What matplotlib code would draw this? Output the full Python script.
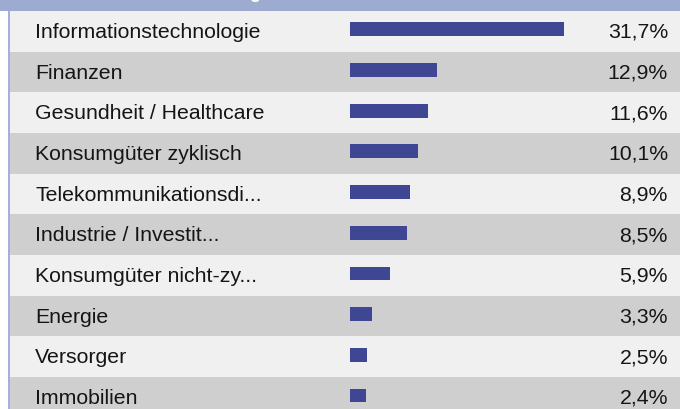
import matplotlib
matplotlib.use("Agg")
import matplotlib.pyplot as plt
from matplotlib.patches import Rectangle
import matplotlib.transforms as mtransforms

categories = [
    "Informationstechnologie",
    "Finanzen",
    "Gesundheit / Healthcare",
    "Konsumgüter zyklisch",
    "Telekommunikationsdi...",
    "Industrie / Investit...",
    "Konsumgüter nicht-zy...",
    "Energie",
    "Versorger",
    "Immobilien",
]
values = [31.7, 12.9, 11.6, 10.1, 8.9, 8.5, 5.9, 3.3, 2.5, 2.4]
value_labels = ["31,7%", "12,9%", "11,6%", "10,1%", "8,9%", "8,5%", "5,9%", "3,3%", "2,5%", "2,4%"]
title = "Branchenverteilung"

W, H = 680, 410
DPI = 100
row_h = 40.67        # px per row
top_px = 12.0        # header height
bar_x0 = 350.0       # px where bars start
px_per_pct = 6.75

plt.rcParams["font.family"] = ["Liberation Sans", "DejaVu Sans"]

fig = plt.figure(figsize=(W / DPI, H / DPI), dpi=DPI)
ax = fig.add_axes([0, 0, 1, 1])
ax.set_axis_off()

# data scales: x in percent, y in row units
ax.set_xlim(-bar_x0 / px_per_pct, (W - bar_x0) / px_per_pct)
y_top = -0.5 - top_px / row_h
y_bot = -0.5 + (H - top_px) / row_h
ax.set_ylim(y_bot, y_top)

light = "#f0f0f0"
dark = "#cfcfcf"
header_c = "#9dabd1"
bar_c = "#3f4794"
border_c = "#a3b0db"
text_c = "#151515"

# header band
ax.axhspan(y_top, -0.5, color=header_c, lw=0, zorder=0)

# row backgrounds
for i in range(len(categories)):
    ax.axhspan(i - 0.5, i + 0.5, color=light if i % 2 == 0 else dark, lw=0, zorder=0)

# white margin + left border below header
tr = mtransforms.blended_transform_factory(ax.transAxes, ax.transData)
ax.add_patch(Rectangle((0, -0.5), 8.0 / W, y_bot + 0.5, transform=tr,
                       facecolor="white", lw=0, zorder=1))
ax.add_patch(Rectangle((8.0 / W, -0.5), 2.0 / W, y_bot + 0.5, transform=tr,
                       facecolor=border_c, lw=0, zorder=1))

# bars
ypos = list(range(len(categories)))
bar_off = -2.0 / row_h
ax.barh([y + bar_off for y in ypos], values, height=13.7 / row_h, left=0,
        color=bar_c, lw=0, zorder=2)

# text
base_off = 5.6 / row_h
fs = 15.3
for i, (cat, lab) in enumerate(zip(categories, value_labels)):
    ax.text(35.0 / W, i + base_off, cat, transform=tr, ha="left", va="baseline",
            fontsize=fs, color=text_c, zorder=3)
    ax.text(668.0 / W, i + base_off, lab, transform=tr, ha="right", va="baseline",
            fontsize=fs, color=text_c, zorder=3)

# title (mostly cut off above the top edge, only a descender shows)
ax.text(262.0 / W, y_top - 2.3 / row_h, title, transform=tr, ha="right", va="baseline",
        fontsize=13, fontweight="bold", color="white", zorder=3, clip_on=False)

fig.savefig("out.png", dpi=DPI)
